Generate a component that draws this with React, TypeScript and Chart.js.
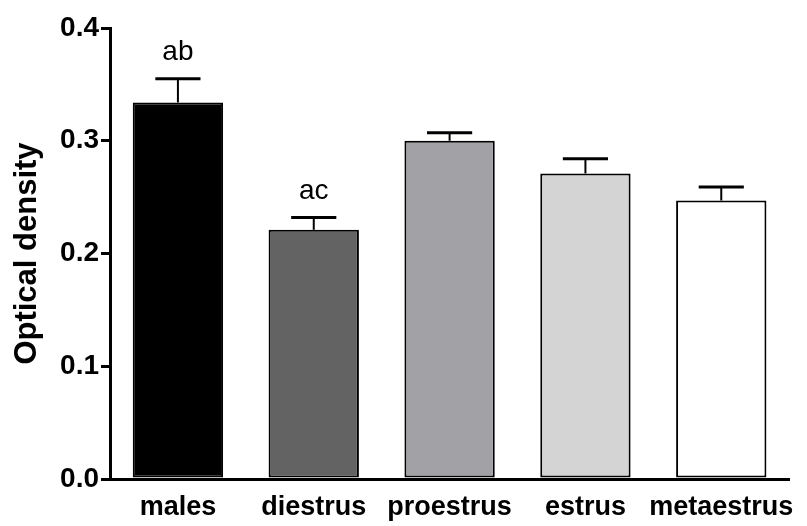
import React, { useEffect, useRef } from "react";
import { Chart, registerables } from "chart.js";

Chart.register(...registerables);

// Optical density by group (mean ± SEM)
const groups = ["males", "diestrus", "proestrus", "estrus", "metaestrus"];
const meanDensity = [0.334, 0.221, 0.3, 0.271, 0.247];
const semDensity = [0.021, 0.011, 0.007, 0.013, 0.012];
const significance = ["ab", "ac", "", "", ""];
const barColors = ["#000000", "#636363", "#a2a1a6", "#d4d4d4", "#ffffff"];
const yTicks = [0, 0.1, 0.2, 0.3, 0.4];

const FONT = '"Liberation Sans", Arial, Helvetica, sans-serif';

const errorBarPlugin = {
  id: "errorBars",
  afterDatasetsDraw(chart: any) {
    const { ctx } = chart;
    const yScale = chart.scales.y;
    const meta = chart.getDatasetMeta(0);
    ctx.save();
    meta.data.forEach((bar: any, i: number) => {
      const x = bar.x;
      const top = bar.y;
      const errY = yScale.getPixelForValue(meanDensity[i] + semDensity[i]);
      ctx.strokeStyle = "#000";
      ctx.lineCap = "butt";
      // stem
      ctx.lineWidth = 2;
      ctx.beginPath();
      ctx.moveTo(x, top);
      ctx.lineTo(x, errY);
      ctx.stroke();
      // cap
      const half = bar.width * 0.25;
      ctx.lineWidth = 3;
      ctx.beginPath();
      ctx.moveTo(x - half, errY);
      ctx.lineTo(x + half, errY);
      ctx.stroke();
      // significance letters
      if (significance[i]) {
        ctx.fillStyle = "#000";
        ctx.font = `28px ${FONT}`;
        ctx.textAlign = "center";
        ctx.textBaseline = "middle";
        ctx.fillText(significance[i], x, errY - 26);
      }
    });
    ctx.restore();
  },
};

export default function App() {
  const canvasRef = useRef<HTMLCanvasElement | null>(null);

  useEffect(() => {
    if (!canvasRef.current) return;
    const chart = new Chart(canvasRef.current, {
      type: "bar",
      data: {
        labels: groups,
        datasets: [
          {
            data: meanDensity,
            backgroundColor: barColors,
            borderColor: "#000",
            borderWidth: 2,
            borderSkipped: false,
            barPercentage: 0.665,
            categoryPercentage: 1,
          },
        ],
      },
      options: {
        animation: false,
        responsive: true,
        maintainAspectRatio: false,
        layout: { padding: { top: 28, right: 17, bottom: 0, left: 0 } },
        plugins: {
          legend: { display: false },
          tooltip: { enabled: false },
        },
        scales: {
          x: {
            grid: { display: false, drawTicks: false },
            border: { display: true, color: "#000", width: 3 },
            ticks: {
              color: "#000",
              padding: 12,
              autoSkip: false,
              maxRotation: 0,
              minRotation: 0,
              font: { family: FONT, size: 27, weight: "bold" },
            },
            afterFit(scale: any) {
              scale.height = 47;
            },
          },
          y: {
            min: 0,
            max: 0.4,
            afterBuildTicks(scale: any) {
              scale.ticks = yTicks.map((v) => ({ value: v }));
            },
            grid: {
              drawOnChartArea: false,
              drawTicks: true,
              tickLength: 9,
              color: "#000",
              lineWidth: 3,
            },
            border: { display: true, color: "#000", width: 3 },
            ticks: {
              color: "#000",
              padding: 2,
              font: { family: FONT, size: 28, weight: "bold" },
              callback: (v: any) => Number(v).toFixed(1),
            },
            title: {
              display: true,
              text: "Optical density",
              color: "#000",
              font: { family: FONT, size: 31, weight: "bold", lineHeight: 1.2 },
              padding: { top: 9, bottom: 0 },
            },
            afterFit(scale: any) {
              scale.width = 110;
            },
          },
        },
      },
      plugins: [errorBarPlugin],
    });
    return () => chart.destroy();
  }, []);

  return (
    <div
      style={{
        position: "fixed",
        left: 0,
        top: 0,
        width: 807,
        height: 526,
        background: "#fff",
      }}
    >
      <canvas ref={canvasRef} />
    </div>
  );
}
